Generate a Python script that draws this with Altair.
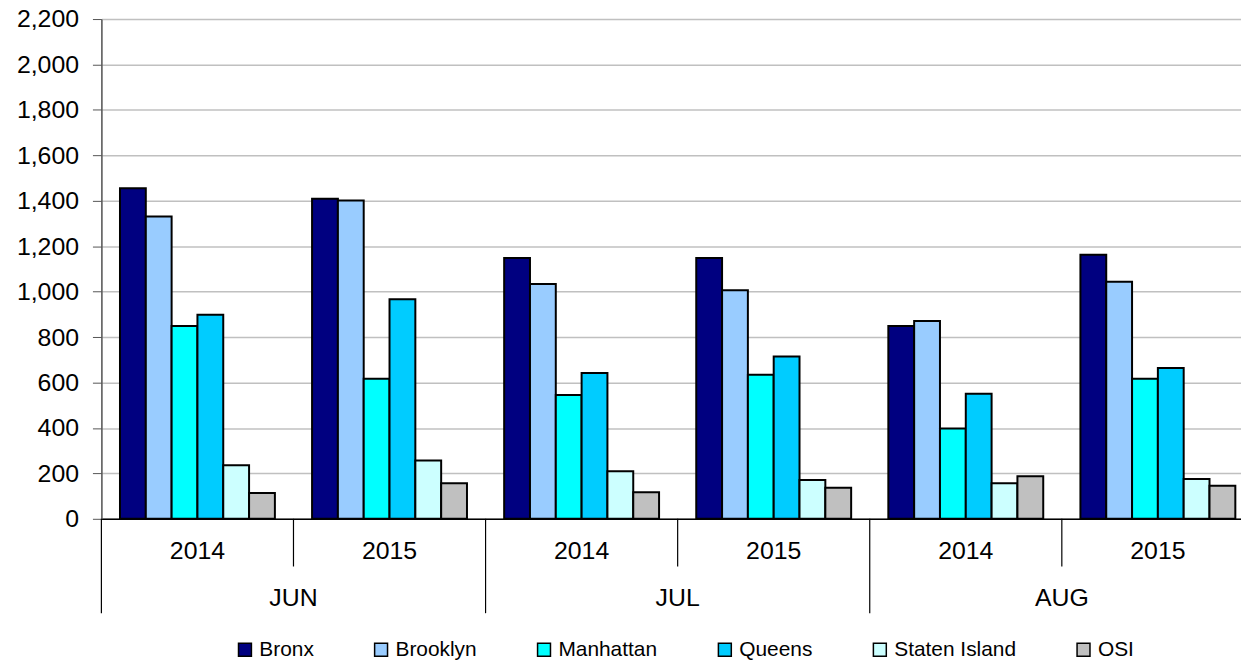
import altair as alt
import pandas as pd

# ---- data ----
groups = ["JUN 2014", "JUN 2015", "JUL 2014", "JUL 2015", "AUG 2014", "AUG 2015"]
months = ["JUN", "JUL", "AUG"]
month_first_group = ["JUN 2014", "JUL 2014", "AUG 2014"]
series = ["Bronx", "Brooklyn", "Manhattan", "Queens", "Staten Island", "OSI"]
colors = ["#000080", "#99CCFF", "#00FFFF", "#00CCFF", "#CCFFFF", "#C0C0C0"]

bronx = [1455, 1409, 1148, 1148, 849, 1162]
brooklyn = [1331, 1401, 1034, 1006, 871, 1044]
manhattan = [849, 617, 545, 634, 398, 617]
queens = [898, 967, 642, 714, 551, 664]
staten_island = [236, 257, 209, 171, 157, 175]
osi = [114, 157, 117, 137, 187, 146]

y_ticks = list(range(0, 2201, 200))

values = [bronx, brooklyn, manhattan, queens, staten_island, osi]
rows = []
for s, vals in zip(series, values):
    for g, v in zip(groups, vals):
        rows.append({"group": g, "series": s, "value": v})
df = pd.DataFrame(rows)

month_df = pd.DataFrame({"group": month_first_group, "month": months})
short_sep = pd.DataFrame({"group": ["JUN 2015", "JUL 2015", "AUG 2015"]})
long_sep = pd.DataFrame({"group": ["JUN 2014", "JUL 2014", "AUG 2014"]})

FONT = "Liberation Sans"

x_scale = alt.Scale(domain=groups, range=[0, 1160], paddingInner=0, paddingOuter=0)
x_axis = alt.Axis(
    title=None,
    labelExpr="split(datum.value, ' ')[1]",
    labelAngle=0,
    ticks=False,
    labelFontSize=25,
    labelFont=FONT,
    labelColor="black",
    labelPadding=20,
    domainColor="black",
    domainWidth=1.5,
    grid=False,
)

bars = alt.Chart(df).mark_bar(stroke="black", strokeWidth=2).encode(
    x=alt.X("group:N", sort=groups, scale=x_scale, axis=x_axis),
    xOffset=alt.XOffset(
        "series:N",
        sort=series,
        scale=alt.Scale(domain=series, paddingInner=0, paddingOuter=0.72),
    ),
    y=alt.Y(
        "value:Q",
        scale=alt.Scale(domain=[0, 2200], nice=False),
        axis=alt.Axis(
            title=None,
            values=y_ticks,
            format=",d",
            labelFontSize=25,
            labelFont=FONT,
            labelColor="black",
            labelPadding=14,
            tickSize=9,
            tickColor="#555555",
            domainColor="#555555",
            domainWidth=1.5,
            gridColor="#c0c0c0",
            gridWidth=1.5,
        ),
    ),
    color=alt.Color(
        "series:N",
        sort=series,
        scale=alt.Scale(domain=series, range=colors),
        legend=alt.Legend(
            title=None,
            orient="none",
            legendX=134,
            legendY=624,
            direction="horizontal",
            columns=6,
            symbolType="square",
            symbolSize=169,
            symbolStrokeColor="black",
            symbolStrokeWidth=1.5,
            symbolOpacity=1,
            labelFontSize=21,
            labelFont=FONT,
            labelColor="black",
            labelOffset=4,
            columnPadding=57,
            padding=0,
        ),
    ),
)

month_text = alt.Chart(month_df).mark_text(
    fontSize=25, font=FONT, color="black", baseline="middle", align="center"
).encode(
    x=alt.X("group:N", sort=groups, scale=x_scale, axis=x_axis, bandPosition=1),
    y=alt.value(583),
    text="month:N",
)

short_rules = alt.Chart(short_sep).mark_rule(color="black", strokeWidth=1.2).encode(
    x=alt.X("group:N", sort=groups, scale=x_scale, axis=x_axis, bandPosition=0),
    y=alt.value(503),
    y2=alt.value(551),
)

long_rules = alt.Chart(long_sep).mark_rule(color="black", strokeWidth=1.2).encode(
    x=alt.X("group:N", sort=groups, scale=x_scale, axis=x_axis, bandPosition=0),
    y=alt.value(503),
    y2=alt.value(598),
)

chart = (
    alt.layer(bars, short_rules, long_rules, month_text)
    .properties(
        width=1147,
        height=503,
        autosize=alt.AutoSizeParams(type="none"),
        padding={"left": 94, "top": 9, "right": 0, "bottom": 140},
    )
    .configure_view(stroke=None)
    .configure(background="white")
)

chart.save("out.html", embed_options={"renderer": "svg", "actions": False})
